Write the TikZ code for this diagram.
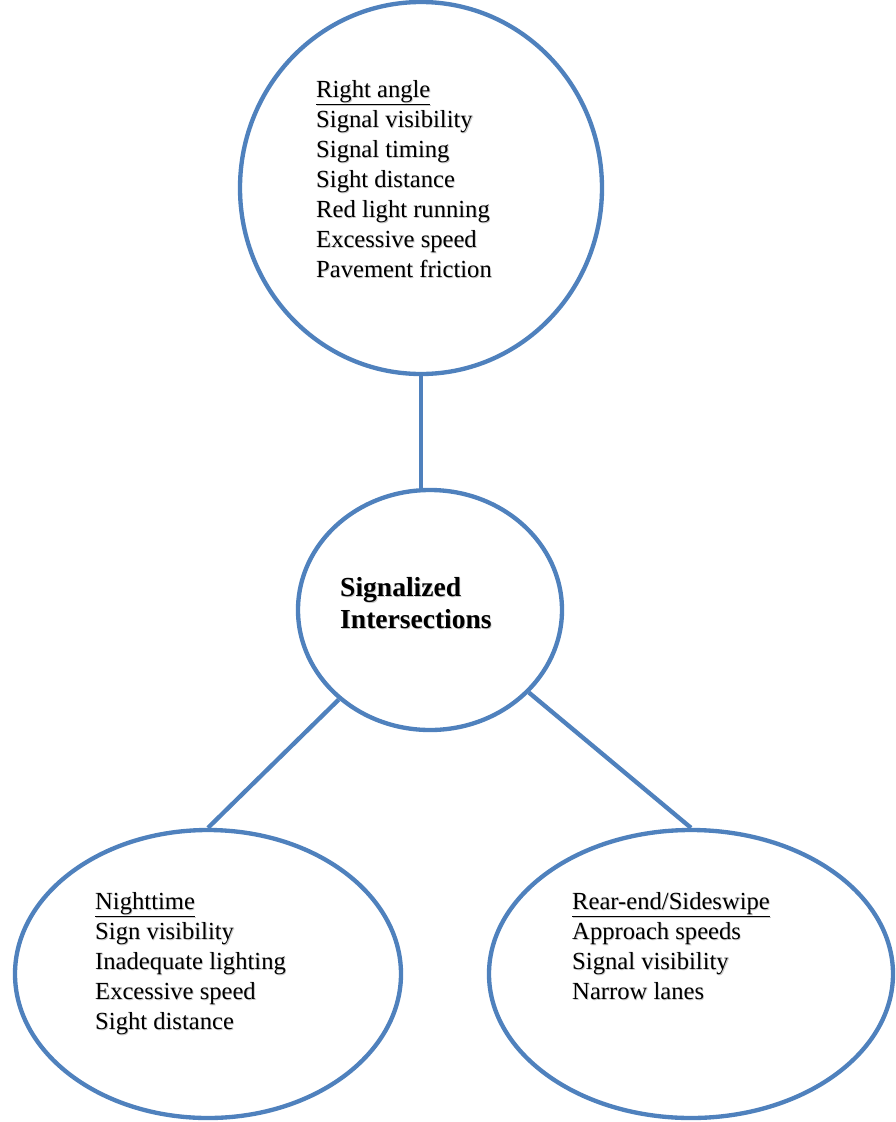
\documentclass[tikz,border=0pt]{standalone}
\usepackage{fontspec}
\setmainfont{Liberation Serif}
\usetikzlibrary{shapes.geometric}
\definecolor{ringblue}{RGB}{79,129,189}
% text with a soft drop shadow
\newcommand{\shd}[1]{\leavevmode\rlap{\raisebox{-0.7pt}{\kern0.7pt\textcolor{black!22}{#1}}}#1}
\begin{document}
\begin{tikzpicture}[x=0.3mm, y=-0.3mm,
        ring/.style={ellipse, draw=ringblue, line width=1.3mm, fill=white, inner sep=0pt},
        link/.style={draw=ringblue, line width=1.3mm},
        items/.style={anchor=north west, inner sep=0pt, align=left, font=\fontsize{21}{25.6}\selectfont},]

        \useasboundingbox (0,0) rectangle (896,1122);

        % Circles
        \node[ring, minimum width=108.6mm, minimum height=111.6mm] (angle) at (421,188) {};
        \node[ring, minimum width=79.2mm, minimum height=72mm] (hub) at (430,610) {};
        \node[ring, minimum width=115.8mm, minimum height=86.4mm] (night) at (208,974) {};
        \node[ring, minimum width=121.2mm, minimum height=86.4mm] (rear) at (691,974) {};

        % Links
        \draw[link] (angle.south) -- (angle.south |- hub.north);
        \draw[link] (hub) -- (night.north);
        \draw[link] (hub) -- (rear.north);

        % Texts
        \node[items] (angletext) at (316,80) {\shd{\underline{Right angle}}\\ \shd{Signal visibility}\\ \shd{Signal timing}\\ \shd{Sight distance}\\ \shd{Red light running}\\ \shd{Excessive speed}\\ \shd{Pavement friction}};
        \node[items, font=\fontsize{23.5}{27.2}\selectfont\bfseries] (hubtext) at (340,577) {\shd{Signalized}\\ \shd{Intersections}};
        \node[items] (nighttext) at (95,892) {\shd{\underline{Nighttime}}\\ \shd{Sign visibility}\\ \shd{Inadequate lighting}\\ \shd{Excessive speed}\\ \shd{Sight distance}};
        \node[items] (reartext) at (572,892) {\shd{\underline{Rear-end/Sideswipe}}\\ \shd{Approach speeds}\\ \shd{Signal visibility}\\ \shd{Narrow lanes}};
\end{tikzpicture}
\end{document}
